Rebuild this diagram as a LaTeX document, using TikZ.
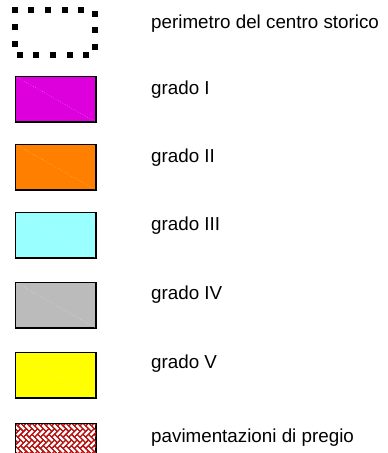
\documentclass[tikz,border=0pt]{standalone}
\usepackage{fontspec}
\setmainfont{Liberation Sans}
\begin{document}
\begin{tikzpicture}[x=1pt,y=-1pt,
  legbox/.style={draw=black, line width=1pt, minimum width=80pt, minimum height=45pt, inner sep=0pt, anchor=north west},
  legtext/.style={anchor=base west, inner sep=0pt, font=\fontsize{18.8}{22}\selectfont},
  shade/.style={draw=black!45, line width=1.2pt},
  brick/.style={draw=chatch, line width=1.1pt}]
\useasboundingbox (0,0) rectangle (388,453);
\definecolor{cmag}{RGB}{221,0,221}
\definecolor{corange}{RGB}{255,128,0}
\definecolor{ccyan}{RGB}{153,255,255}
\definecolor{cgrey}{RGB}{187,187,187}
\definecolor{cyel}{RGB}{255,255,0}
\definecolor{chatch}{RGB}{180,20,20}
% perimeter squares
\foreach \cx/\cy in {15/10,30.5/10,47.5/10,64.5/10,80.5/10,95/13.5,15/26.5,15/43.5,19.5/55,35.5/55,52.5/55,69.5/55,85.5/55,95/30,95/46.5}
  \fill (\cx-3,\cy-3) rectangle (\cx+3,\cy+3);
\node[legtext] (t0) at (151,28) {perimetro del centro storico};
% boxes
\foreach \n/\y/\c in {b1/76/cmag,b2/144/corange,b3/212/ccyan,b4/282/cgrey,b5/352/cyel}{
  \draw[shade] (16,\y+46) -- (96,\y+46) -- (96,\y+1);
  \node[legbox, fill=\c] (\n) at (15,\y) {};
  \draw[\c!55!white, dotted, line width=0.6pt] (\n.north west) -- (\n.south east);
  \draw[line width=1pt] (\n.north west) rectangle (\n.south east);
}
\node[legtext] (t1) at (151,94) {grado I};
\node[legtext] (t2) at (151,162) {grado II};
\node[legtext] (t3) at (151,230) {grado III};
\node[legtext] (t4) at (151,299) {grado IV};
\node[legtext] (t5) at (151,368) {grado V};
% hatched box (herringbone)
\node[legbox, fill=white] (b6) at (15,423) {};
\begin{scope}
  \clip (b6.north west) rectangle (b6.south east);
  \begin{scope}[shift={(15,423)}, rotate=45, scale=4]
    \foreach \a in {-3,...,16}{
      \foreach \b in {-6,...,2}{
        \pgfmathsetmacro{\pu}{\a+2*\b}
        \pgfmathsetmacro{\pv}{\a-2*\b}
        \draw[brick] (\pu,\pv) rectangle ++(2,1);
        \draw[brick] (\pu,\pv+1) rectangle ++(1,2);
      }
    }
  \end{scope}
\end{scope}
\draw[line width=1pt] (b6.north west) rectangle (b6.south east);
\node[legtext] (t6) at (151,442) {pavimentazioni di pregio};
\end{tikzpicture}
\end{document}
